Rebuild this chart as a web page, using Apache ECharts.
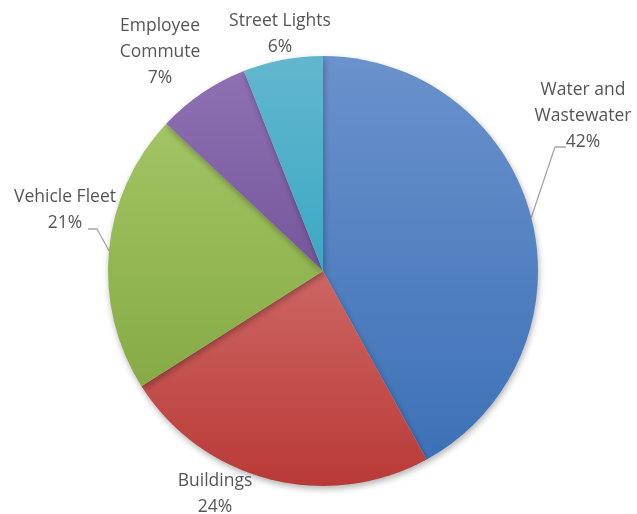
<!DOCTYPE html>
<html>
<head>
<meta charset="utf-8">
<script src="https://cdn.jsdelivr.net/npm/echarts@6/dist/echarts.min.js"></script>
<style>
  html, body { margin: 0; padding: 0; background: #ffffff; }
  #chart { width: 637px; height: 514px; }
</style>
</head>
<body>
<div id="chart"></div>
<script>
// Share of emissions by source (percent)
const categories = ['Water and\nWastewater', 'Buildings', 'Vehicle Fleet', 'Employee\nCommute', 'Street Lights'];
const shares = [42, 24, 21, 7, 6];

// Slice shading: lighter top, darker bottom
const topColors = ['#6a92cc', '#cd6663', '#a2c463', '#8e71b3', '#62b7ce'];
const bottomColors = ['#3d71b7', '#b93a37', '#86ab45', '#76569c', '#3ba8c4'];

// Pie geometry
const CX = 323, CY = 271, R = 215;

// Where each label block is centred; leader elbows for slices that have one
const labelSpots = [[583, 116], [215, 494], [65, 210], [160, 52], [280, 34]];
const leaderBends = [[[555, 147], [566, 147]], null, [[97, 229], [88, 229]], null, null];

// Point on the rim at the middle of slice i (clockwise from 12 o'clock)
const total = shares.reduce((a, b) => a + b, 0);
function rimPoint(i) {
  const before = shares.slice(0, i).reduce((a, b) => a + b, 0);
  const ang = (before + shares[i] / 2) / total * 2 * Math.PI;
  return [CX + R * Math.sin(ang), CY - R * Math.cos(ang)];
}

const chart = echarts.init(document.getElementById('chart'), null, { renderer: 'canvas' });

const data = categories.map((name, i) => ({
  name,
  value: shares[i],
  itemStyle: {
    color: {
      type: 'linear', x: 0, y: 0, x2: 0, y2: 1,
      colorStops: [
        { offset: 0, color: topColors[i] },
        { offset: 1, color: bottomColors[i] }
      ]
    }
  },
  labelLine: { show: !!leaderBends[i] }
}));

chart.setOption({
  backgroundColor: '#ffffff',
  animation: false,
  series: [{
    type: 'pie',
    center: [CX, CY],
    radius: R,
    startAngle: 90,
    clockwise: true,
    data,
    itemStyle: {
      borderWidth: 0,
      shadowBlur: 6,
      shadowOffsetY: 3,
      shadowOffsetX: 1,
      shadowColor: 'rgba(0,0,0,0.30)'
    },
    label: {
      show: true,
      position: 'outside',
      overflow: 'none',
      formatter: p => p.name + '\n' + p.value + '%',
      fontFamily: 'Open Sans',
      fontSize: 17.5,
      lineHeight: 26,
      color: '#555555',
      align: 'center'
    },
    labelLine: {
      show: true,
      length: 10,
      length2: 10,
      lineStyle: { color: '#a6a6a6', width: 1.3 }
    },
    labelLayout: p => {
      const i = p.dataIndex;
      const s = labelSpots[i];
      const out = { x: s[0], y: s[1], align: 'center', verticalAlign: 'middle' };
      if (leaderBends[i]) {
        out.labelLinePoints = [rimPoint(i), leaderBends[i][0], leaderBends[i][1]];
      }
      return out;
    },
    emphasis: { disabled: true }
  }]
});
</script>
</body>
</html>
